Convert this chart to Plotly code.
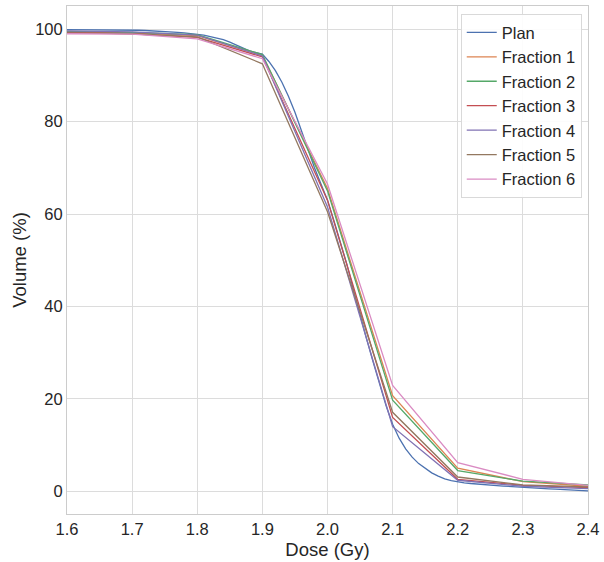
import plotly.graph_objects as go

# Dose grid (Gy) for the planned DVH (fine sampling)
plan_dose = [round(1.60 + 0.01 * i, 2) for i in range(81)]
plan_volume = [
    99.9, 99.9, 99.9, 99.9, 99.9, 99.9, 99.85, 99.85, 99.85, 99.8,
    99.8, 99.75, 99.7, 99.65, 99.6, 99.5, 99.4, 99.3, 99.2, 99.05,
    98.9, 98.7, 98.4, 98.1, 97.7, 97.2, 96.6, 95.9, 95.3, 94.9,
    94.6, 93.0, 91.0, 88.5, 85.5, 82.0, 78.0, 74.0, 70.0, 66.5,
    63.0, 58.5, 54.0, 49.0, 43.5, 38.0, 33.0, 28.0, 23.0, 18.5,
    14.5, 11.5, 9.2, 7.4, 6.0, 4.9, 4.0, 3.3, 2.7, 2.3,
    2.0, 1.85, 1.7, 1.55, 1.45, 1.35, 1.25, 1.15, 1.05, 0.95,
    0.8, 0.75, 0.7, 0.62, 0.55, 0.48, 0.4, 0.33, 0.25, 0.18,
    0.12,
]

# Dose grid (Gy) for the delivered fractions
fraction_dose = [1.6, 1.7, 1.8, 1.9, 2.0, 2.1, 2.2, 2.3, 2.4]
fraction_1 = [99.4, 99.2, 98.6, 94.3, 65.5, 20.7, 5.0, 2.1, 1.1]
fraction_2 = [99.5, 99.3, 98.8, 94.5, 65.0, 19.7, 4.5, 2.2, 1.4]
fraction_3 = [99.3, 99.0, 98.2, 94.0, 63.0, 16.0, 2.6, 1.3, 0.8]
fraction_4 = [99.6, 99.4, 98.7, 94.2, 61.5, 14.0, 2.4, 1.1, 0.6]
fraction_5 = [99.2, 99.0, 98.3, 92.5, 60.5, 17.1, 3.1, 1.4, 0.95]
fraction_6 = [99.0, 98.9, 97.9, 93.6, 66.5, 22.9, 6.2, 2.6, 1.3]

series_names = ["Plan", "Fraction 1", "Fraction 2", "Fraction 3",
                "Fraction 4", "Fraction 5", "Fraction 6"]
palette = ["#4c72b0", "#dd8452", "#55a868", "#c44e52",
           "#8172b3", "#937860", "#da8bc3"]

x_ticks = [1.6, 1.7, 1.8, 1.9, 2.0, 2.1, 2.2, 2.3, 2.4]
y_ticks = [0, 20, 40, 60, 80, 100]

fig = go.Figure()
fig.add_trace(go.Scatter(x=plan_dose, y=plan_volume, mode="lines",
                         name=series_names[0],
                         line=dict(color=palette[0], width=1.3)))
for name, vals, col in zip(series_names[1:],
                           [fraction_1, fraction_2, fraction_3,
                            fraction_4, fraction_5, fraction_6],
                           palette[1:]):
    fig.add_trace(go.Scatter(x=fraction_dose, y=vals, mode="lines",
                             name=name, line=dict(color=col, width=1.3)))

axis_common = dict(
    showgrid=True, gridcolor="#dcdcdc", gridwidth=1,
    showline=True, linecolor="#cccccc", linewidth=1, mirror=True,
    zeroline=False, ticks="",
    tickfont=dict(family="Liberation Sans, Arial, sans-serif",
                  size=16.5, color="#262626"),
)

fig.update_layout(
    width=604, height=562,
    margin=dict(l=67, r=14, t=5, b=48),
    paper_bgcolor="white", plot_bgcolor="white",
    font=dict(family="Liberation Sans, Arial, sans-serif", color="#262626"),
    xaxis=dict(range=[1.6, 2.4], tickvals=x_ticks,
               ticktext=[f"{v:.1f}" for v in x_ticks],
               title=dict(text="Dose (Gy)", font=dict(size=18.5), standoff=6),
               **axis_common),
    yaxis=dict(range=[-4.9, 105], tickvals=y_ticks,
               title=dict(text="Volume (%)", font=dict(size=18.5), standoff=3),
               **axis_common),
    legend=dict(x=0.988, y=0.984, xanchor="right", yanchor="top",
                bgcolor="rgba(255,255,255,0.9)", bordercolor="#d9d9d9",
                borderwidth=1, font=dict(size=16.5, color="#262626"),
                itemwidth=30, tracegroupgap=0),
    showlegend=True,
)

fig.write_html("out.html")
